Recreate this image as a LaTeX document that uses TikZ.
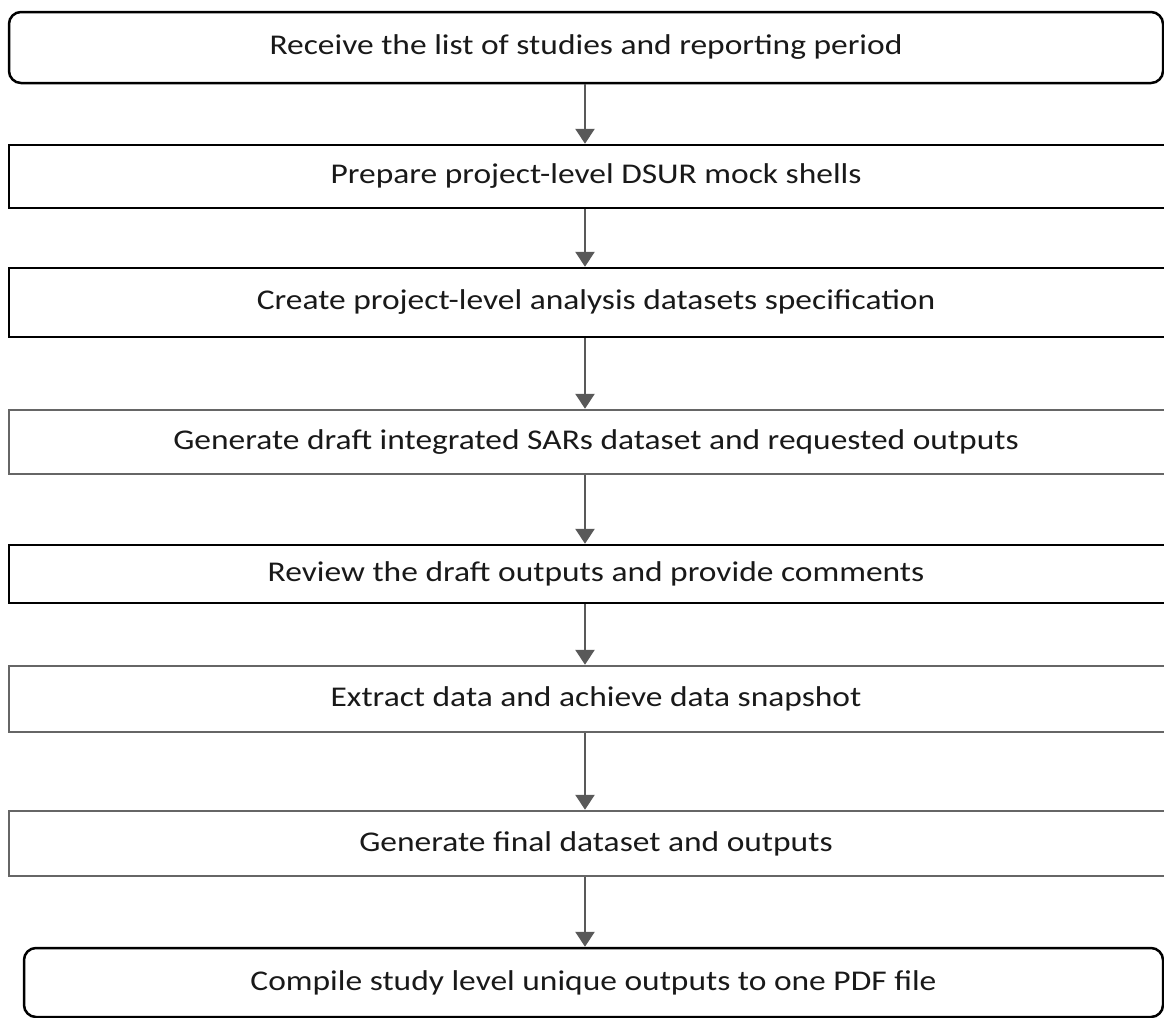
\documentclass[tikz,border=0pt]{standalone}
\usepackage{fontspec}
\setmainfont{Carlito}[FakeStretch=1.17]
\usetikzlibrary{arrows.meta}

\begin{document}
\begin{tikzpicture}[x=0.5pt, y=-0.5pt,
	stepbox/.style={rectangle, draw=black, line width=1.25pt, inner sep=0pt, minimum width=587pt, text=black!90, font=\fontsize{14.3pt}{17pt}\selectfont},
	greybox/.style={stepbox, draw=black!60},
	endbox/.style={stepbox, rounded corners=6pt},
	flow/.style={draw=black!65, line width=1.4pt, -{Triangle[width=9.5pt,length=7.5pt]}}]
	\clip (0,0) rectangle (1164,1018);
	\node (S1) at (586, 47.5)	[endbox, minimum width=577pt, minimum height=35.5pt]	{Receive the list of studies and reporting period};
	\node (S2) at (596, 176.5)	[stepbox, minimum height=31.5pt]	{Prepare project-level DSUR mock shells};
	\node (S3) at (596, 302.5)	[stepbox, minimum height=34.5pt]	{Create project-level analysis datasets specification};
	\node (S4) at (596, 442)	[greybox, minimum height=32pt]	{Generate draft integrated SARs dataset and requested outputs};
	\node (S5) at (596, 574)	[stepbox, minimum height=29pt]	{Review the draft outputs and provide comments};
	\node (S6) at (596, 699)	[greybox, minimum height=33pt]	{Extract data and achieve data snapshot};
	\node (S7) at (596, 843.5)	[greybox, minimum height=32.5pt]	{Generate final dataset and outputs};
	\node (S8) at (593.5, 982.5)	[endbox, minimum width=569.5pt, minimum height=34.5pt]	{Compile study level unique outputs to one PDF file};
	\coordinate (spine) at (585, 0);
	\draw[flow] (S1.south -| spine) -- (S2.north -| spine);
	\draw[flow] (S2.south -| spine) -- (S3.north -| spine);
	\draw[flow] (S3.south -| spine) -- (S4.north -| spine);
	\draw[flow] (S4.south -| spine) -- (S5.north -| spine);
	\draw[flow] (S5.south -| spine) -- (S6.north -| spine);
	\draw[flow] (S6.south -| spine) -- (S7.north -| spine);
	\draw[flow] (S7.south -| spine) -- (S8.north -| spine);
\end{tikzpicture}
\end{document}
